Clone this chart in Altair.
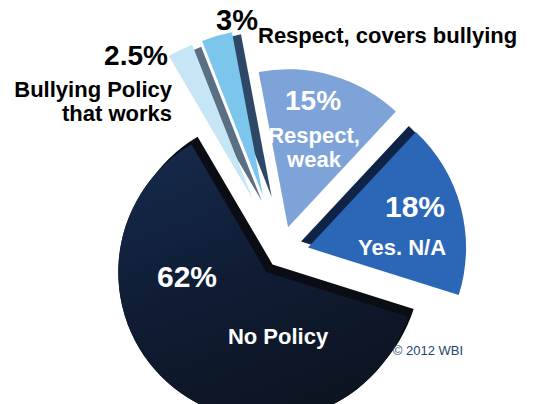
import math
import altair as alt
import pandas as pd

# ---- data ----
labels = ["Respect,\nweak", "Yes. N/A", "No Policy", "Bullying Policy\nthat works", "Respect, covers bullying"]
pct = [15, 18, 62, 2.5, 3]
face_colors = ["#7ea3d8", "#2c66b6", "#101c34", "#c6e6f6", "#7cc6ee"]
wall_colors = ["#6a8cc0", "#0f2346", "#0a0e14", "#5b6f82", "#2c4866"]
credit = "© 2012 WBI"

# ---- layout ----
W, H = 536, 404
CX, CY = 280, 255
START = -0.187
TOTAL = sum(pct)
FONT = "Liberation Sans"

df = pd.DataFrame({"label": labels, "pct": pct, "i": list(range(len(labels)))})

base = alt.Chart(df).transform_window(
    cum="sum(pct)", sort=[alt.SortField("i")], frame=[None, 0]
).transform_calculate(
    t0="datum.cum - datum.pct",
    mid=f"{START} + (datum.cum - datum.pct / 2) / {TOTAL} * 2 * PI",
    d="datum.pct < 5 ? 62 : datum.pct > 50 ? 22 : 29",
    r="datum.pct < 5 ? 166 : datum.pct > 50 ? 148 : 158",
).transform_calculate(
    cx=f"{CX} + datum.d * sin(datum.mid)",
    cy=f"{CY} - datum.d * cos(datum.mid)",
).transform_calculate(
    wx="datum.pct < 5 ? datum.cx + 9 : datum.pct > 50 ? datum.cx - 10 * sin(datum.mid) : datum.cx - 7",
    wy="datum.pct < 5 ? datum.cy + 2 : datum.pct > 50 ? datum.cy + 10 * cos(datum.mid) : datum.cy - 6",
)

theta = alt.Theta("t0:Q", scale=alt.Scale(domain=[0, TOTAL], range=[START, START + 2 * math.pi]), stack=None)
radius = alt.Radius("r:Q", scale=None)

walls = base.transform_filter(alt.datum.i != 0).mark_arc(stroke=None).encode(
    theta=theta,
    theta2="cum:Q",
    radius=radius,
    x=alt.X("wx:Q", scale=None, axis=None),
    y=alt.Y("wy:Q", scale=None, axis=None),
    color=alt.Color("label:N", scale=alt.Scale(domain=labels, range=wall_colors), legend=None),
)

faces = base.mark_arc(stroke=None).encode(
    theta=theta,
    theta2="cum:Q",
    radius=radius,
    x=alt.X("cx:Q", scale=None, axis=None),
    y=alt.Y("cy:Q", scale=None, axis=None),
    fill=alt.Fill("label:N", scale=alt.Scale(domain=labels, range=face_colors), legend=None),
)

# shading of the largest slice
np_shade = base.transform_filter(alt.datum.i == 2).mark_arc(
    stroke=None,
    fill=alt.Gradient(
        gradient="linear", x1=0.2, y1=0, x2=0.6, y2=1,
        stops=[alt.GradientStop(color="#15294a", offset=0),
               alt.GradientStop(color="#0f1c33", offset=0.5),
               alt.GradientStop(color="#0c1420", offset=1)],
    ),
).encode(
    theta=theta,
    theta2="cum:Q",
    radius=radius,
    x=alt.X("cx:Q", scale=None, axis=None),
    y=alt.Y("cy:Q", scale=None, axis=None),
)


def txt(s, x, y, size, color="black", align="center", weight="bold", lh=24):
    return alt.Chart(pd.DataFrame({"t": [s]})).mark_text(
        font=FONT, fontSize=size, fontWeight=weight, color=color, align=align,
        baseline="alphabetic", lineBreak="\n", lineHeight=lh,
    ).encode(text="t:N", x=alt.value(x), y=alt.value(y))


def p(v):
    return f"{v:g}%"


texts = [
    txt(p(pct[4]), 237, 30, 29),
    txt(labels[4], 258, 43, 22, align="left"),
    txt(p(pct[3]), 136, 65, 28),
    txt(labels[3], 172, 97, 22, align="right", lh=24),
    txt(p(pct[0]), 313, 110, 28, color="white"),
    txt(labels[0], 314, 143, 22, color="white", lh=24),
    txt(p(pct[1]), 415, 217, 30, color="white"),
    txt(labels[1], 402, 255, 22, color="white"),
    txt(p(pct[2]), 187, 287, 30, color="white"),
    txt(labels[2], 278, 344, 22, color="white"),
    txt(credit, 428, 355, 13, color="#23466f", weight="normal"),
]

chart = alt.layer(walls, faces, np_shade, *texts).resolve_scale(
    color="independent", fill="independent"
).properties(
    width=W, height=H, autosize=alt.AutoSizeParams(type="none"), padding=0,
    background="white",
).configure_view(stroke=None)

chart.save("out.html", embed_options={"renderer": "svg", "actions": False})
